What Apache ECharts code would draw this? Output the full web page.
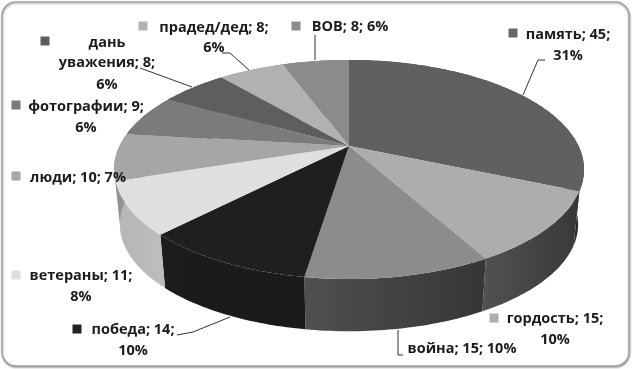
<!DOCTYPE html>
<html><head><meta charset="utf-8">
<style>html,body{margin:0;padding:0;background:#fff}#c{width:632px;height:369px}</style>
<script src="https://cdn.jsdelivr.net/npm/echarts@6/dist/echarts.min.js"></script>
</head><body><div id="c"></div>
<script>
const categories = ['память','гордость','война','победа','ветераны','люди','фотографии','дань уважения','прадед/дед','ВОВ'];
const values = [45,15,15,14,11,10,9,8,8,8];
const percents = [31,10,10,10,8,7,6,6,6,6];
const labelLines = [
  ['память; 45;','31%'],['гордость; 15;','10%'],['война; 15; 10%'],['победа; 14;','10%'],
  ['ветераны; 11;','8%'],['люди; 10; 7%'],['фотографии; 9;','6%'],
  ['дань','уважения; 8;','6%'],['прадед/дед; 8;','6%'],['ВОВ; 8; 6%']
];
// styles and layout
const topColors = ['#606060','#adadad','#8c8c8c','#1f1f1f','#dfdfdf','#a6a6a6','#7b7b7b','#5e5e5e','#b1b1b1','#8b8b8b'];
const sideColors = [['#3e3e3e','#2c2c2c'],['#525252','#383838'],['#505050','#363636'],['#1c1c1c','#1a1a1a'],['#b6b6b6','#bdbdbd'],['#909090','#999999'],['#666','#666'],['#444','#444'],['#888','#888'],['#666','#666']];
const keyColors = ['#666666','#adadad','#8c8c8c','#222222','#dddddd','#a6a6a6','#7b7b7b','#5e5e5e','#b1b1b1','#8b8b8b'];
const labelPos = [
  {key:[513,33],lines:[[568,35],[568,56]]},
  {key:[494,318],lines:[[555,319],[555,340]]},
  {key:null,lines:[[462,349]]},
  {key:[77,329],lines:[[133,330],[133,351]]},
  {key:[16,275],lines:[[81,276],[81,297]]},
  {key:[16,176],lines:[[78,178]]},
  {key:[16,105],lines:[[86,107],[86,128]]},
  {key:[45,41],lines:[[107,43],[107,63],[107,85]]},
  {key:[143,26],lines:[[214,28],[214,48]]},
  {key:[296,26],lines:[[350,27]]}
];
const leaders = [
  [[523,95],[538,60],[545,60]],null,[[398,330],[398,355],[403,355]],
  [[230,317],[193,332],[177,335]],null,null,null,
  [[192,87],[140,68]],[[249,70],[230,53],[222,53]],[[315,35],[315,60]]
];
const FONT = 'bold 14.5px "Open Sans"';
const CX=349, CY=146, A=104.5, B=229.5, K=0.2147, DEPTH=55.5, SHRINK=0.975;
const total = values.reduce((a,b)=>a+b,0);
function proj(deg, lower){
  const t=deg*Math.PI/180, u=Math.sin(t), v=Math.cos(t), w=1+K*v;
  const x=B*u/w, y=-A*v/w;
  return lower ? [CX+SHRINK*x, CY+DEPTH+SHRINK*y] : [CX+x, CY+y];
}
function span(i){
  let s=0; for(let j=0;j<i;j++) s+=values[j];
  return [s/total*360,(s+values[i])/total*360];
}
function arc(a,b,lower){
  const pts=[]; const n=Math.max(2,Math.ceil(b-a));
  for(let k=0;k<=n;k++) pts.push(proj(a+(b-a)*k/n,lower));
  return pts;
}
const rows = values.map((v,i)=>[i,v]);
const chart = echarts.init(document.getElementById('c'),null,{renderer:'canvas'});
chart.setOption({
  animation:false,
  backgroundColor:'#fff',
  graphic:[
    {type:'rect',z:0,shape:{x:2,y:2,width:627,height:364,r:14},
     style:{fill:'#fff',stroke:'#a4a4a4',lineWidth:1.5,shadowColor:'rgba(0,0,0,0.35)',shadowBlur:2,shadowOffsetX:0.5,shadowOffsetY:1}}
  ],
  series:[
    {type:'custom',coordinateSystem:'none',z:2,data:rows,silent:true,
     renderItem(p,api){
       const i=api.value(0), [a,b]=span(i);
       const pts=arc(a,b,false).concat(arc(a,b,true).reverse());
       return {type:'polygon',shape:{points:pts},style:{
         fill:{type:'linear',x:0,y:0,x2:1,y2:0,colorStops:[{offset:0,color:sideColors[i][0]},{offset:1,color:sideColors[i][1]}]}}};
     }},
    {type:'custom',coordinateSystem:'none',z:3,data:rows,silent:true,
     renderItem(p,api){
       const i=api.value(0), [a,b]=span(i);
       return {type:'polygon',shape:{points:[[CX,CY]].concat(arc(a,b,false))},style:{fill:topColors[i]}};
     }},
    {type:'custom',coordinateSystem:'none',z:4,data:rows,silent:true,
     renderItem(p,api){
       const i=api.value(0), children=[], lp=labelPos[i];
       if(leaders[i]) children.push({type:'polyline',shape:{points:leaders[i]},style:{fill:'none',stroke:'#333',lineWidth:1}});
       if(lp.key) children.push({type:'rect',shape:{x:lp.key[0]-4.5,y:lp.key[1]-4.5,width:9,height:9},style:{fill:keyColors[i]}});
       labelLines[i].forEach((t,k)=>children.push({type:'text',style:{text:t,x:lp.lines[k][0],y:lp.lines[k][1],align:'center',verticalAlign:'middle',font:FONT,fill:'#1c1c1c'}}));
       return {type:'group',children};
     }}
  ]
});
</script></body></html>
